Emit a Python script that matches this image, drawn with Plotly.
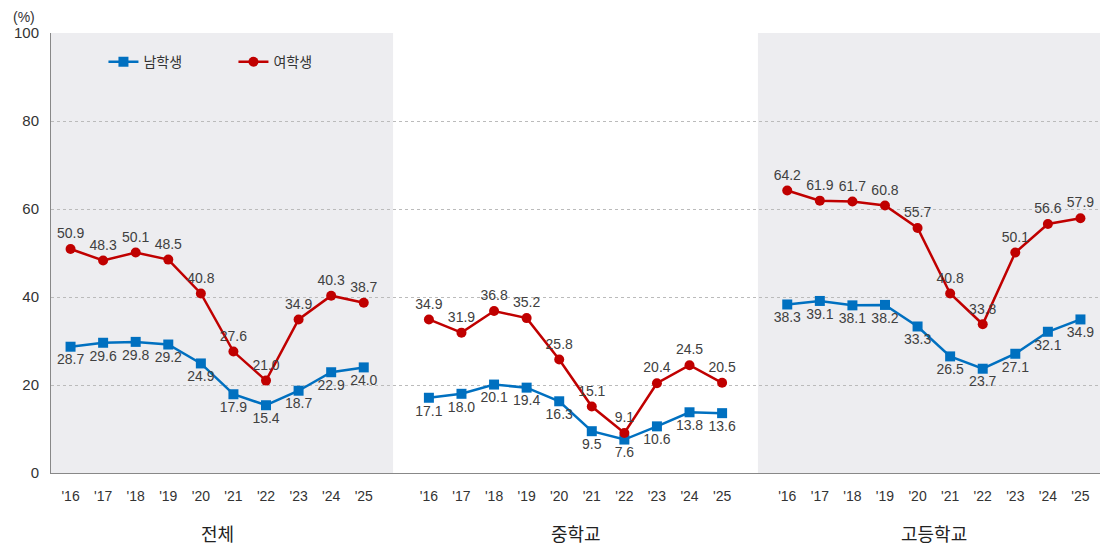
import plotly.graph_objects as go

# 그룹과 연도
groups = ["전체", "중학교", "고등학교"]
years = ["'16", "'17", "'18", "'19", "'20", "'21", "'22", "'23", "'24", "'25"]

# 남학생 / 여학생 (%)
boys = {
    "전체": [28.7, 29.6, 29.8, 29.2, 24.9, 17.9, 15.4, 18.7, 22.9, 24.0],
    "중학교": [17.1, 18.0, 20.1, 19.4, 16.3, 9.5, 7.6, 10.6, 13.8, 13.6],
    "고등학교": [38.3, 39.1, 38.1, 38.2, 33.3, 26.5, 23.7, 27.1, 32.1, 34.9],
}
girls = {
    "전체": [50.9, 48.3, 50.1, 48.5, 40.8, 27.6, 21.0, 34.9, 40.3, 38.7],
    "중학교": [34.9, 31.9, 36.8, 35.2, 25.8, 15.1, 9.1, 20.4, 24.5, 20.5],
    "고등학교": [64.2, 61.9, 61.7, 60.8, 55.7, 40.8, 33.8, 50.1, 56.6, 57.9],
}

BLUE = "#0070C0"
RED = "#C00000"
KFONT = "Noto Sans CJK KR"
NFONT = "Liberation Sans"

fig = go.Figure()

# 그룹 배경 (전체, 고등학교는 회색)
gap = len(years) + 1
fig.add_shape(type="rect", xref="x", yref="paper", x0=-0.6, x1=len(years) - 0.1,
              y0=0, y1=1, fillcolor="#EDEDF0", line_width=0, layer="below")
fig.add_shape(type="rect", xref="x", yref="paper", x0=2 * gap - 0.9, x1=2 * gap + len(years) - 0.4,
              y0=0, y1=1, fillcolor="#EDEDF0", line_width=0, layer="below")

tickvals, ticktext = [], []
for g, name in enumerate(groups):
    xs = [g * gap + i for i in range(len(years))]
    tickvals += xs
    ticktext += years
    fig.add_trace(go.Scatter(
        x=xs, y=boys[name], mode="lines+markers+text",
        line=dict(color=BLUE, width=2.5),
        marker=dict(symbol="square", size=10, color=BLUE),
        text=[f"{v:.1f}" for v in boys[name]], textposition="bottom center",
        textfont=dict(size=14, color="#404040", family=NFONT),
        name="남학생", legendgroup="m", showlegend=(g == 0)))
    fig.add_trace(go.Scatter(
        x=xs, y=girls[name], mode="lines+markers+text",
        line=dict(color=RED, width=2.5),
        marker=dict(symbol="circle", size=10, color=RED),
        text=[f"{v:.1f}" for v in girls[name]], textposition="top center",
        textfont=dict(size=14, color="#404040", family=NFONT),
        name="여학생", legendgroup="f", showlegend=(g == 0)))
    fig.add_annotation(x=g * gap + (len(years) - 1) / 2, y=0, xref="x", yref="paper",
                       yshift=-60, text=name, showarrow=False, yanchor="middle",
                       font=dict(size=18, color="#222", family=KFONT))

fig.add_annotation(x=0, y=1.0, xref="paper", yref="paper", xshift=-14, yshift=6,
                   text="(%)", showarrow=False, xanchor="right", yanchor="bottom",
                   font=dict(size=14, color="#333", family=NFONT))

fig.update_layout(
    width=1101, height=550,
    margin=dict(l=51, r=1, t=33, b=77),
    plot_bgcolor="white", paper_bgcolor="white",
    font=dict(family=KFONT, color="#333"),
    legend=dict(orientation="h", x=0.05, y=0.97, xanchor="left", yanchor="top",
                bgcolor="rgba(0,0,0,0)", font=dict(size=14, family=KFONT),
                itemwidth=30, tracegroupgap=0, entrywidth=85),
    xaxis=dict(range=[-0.6, 2 * gap + len(years) - 0.4], tickvals=tickvals, ticktext=ticktext,
               showgrid=False, zeroline=False, showline=True, linecolor="#888",
               ticks="", tickfont=dict(size=14, color="#333", family=NFONT), ticklabelstandoff=10),
    yaxis=dict(range=[0, 100], dtick=20, showgrid=True, gridcolor="#BBBBBB",
               griddash="dot", zeroline=False, showline=True, linecolor="#888",
               ticks="", tickfont=dict(size=15, color="#333", family=NFONT), ticklabelstandoff=8),
)

fig.write_html("out.html", config={"displayModeBar": False},
               post_script="document.body.style.margin='0px';")
